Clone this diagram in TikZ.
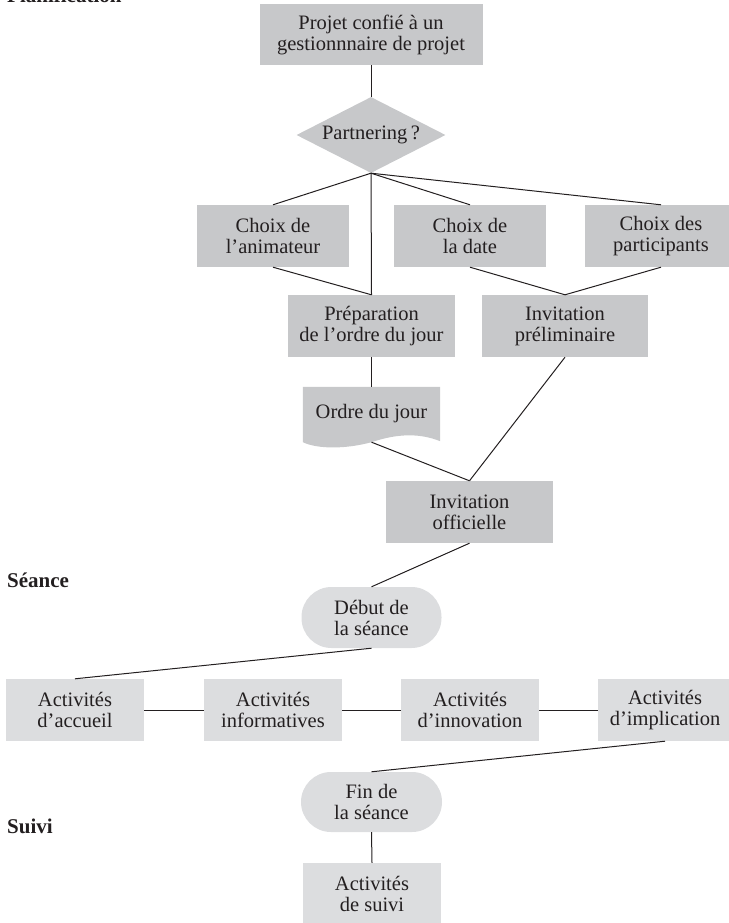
\documentclass[tikz,border=0pt]{standalone}
\usepackage{fontspec}
\setmainfont{Liberation Serif}
\usetikzlibrary{shapes.geometric,backgrounds,calc}
\definecolor{darkbox}{RGB}{199,200,202}
\definecolor{lightbox}{RGB}{220,221,223}
\definecolor{inkc}{RGB}{35,31,32}
\begin{document}
\begin{tikzpicture}[x=1pt,y=-1pt,
  every node/.style={font=\fontsize{20.5}{21}\selectfont, align=center, inner sep=0pt, text=inkc},
  pbox/.style={fill=darkbox, minimum width=#1, minimum height=62},
  pbox/.default=152,
  sbox/.style={fill=lightbox, minimum width=#1, minimum height=62},
  sbox/.default=138,
  stad/.style={fill=lightbox, rounded corners=30pt, minimum width=140, minimum height=61},
  dec/.style={shape=diamond, fill=darkbox, aspect=1.96, minimum width=149, minimum height=76},
  conn/.style={line width=1pt, draw=inkc},
  sec/.style={font=\fontsize{21}{21}\selectfont\bfseries, anchor=base west}
]
\useasboundingbox (0,0) rectangle (728,923);

% section labels
\node[sec] (lplan) at (7,3) {Planification};
\node[sec] (lseance) at (7,587) {Séance};
\node[sec] (lsuivi) at (7,833) {Suivi};

% planning
\node[pbox=223, minimum height=61] (p1) at (371,34.5) {Projet confié à un\\gestionnnaire de projet};
\node[dec] (d) at (371,135) {Partnering\,?};
\node[pbox] (anim) at (273,236) {Choix de\\l'animateur};
\node[pbox] (date) at (470,236) {Choix de\\la date};
\node[pbox] (part) at (661,236) {Choix des\\participants};
\node[pbox=167] (prep) at (371.5,326) {Préparation\\de l'ordre du jour};
\node[pbox=166] (invp) at (565,326) {Invitation\\préliminaire};
\node[minimum width=137, minimum height=54] (odj) at (371.5,414) {\raisebox{2pt}{Ordre du jour}};
\node[pbox=167] (invo) at (469.5,512) {Invitation\\officielle};

\begin{scope}[on background layer]
\fill[darkbox] (odj.north west) -- (odj.north east) -- (odj.south east)
  .. controls ($(odj.south east)+(-20,-8)$) and ($(odj.south east)+(-42,-8)$) .. ($(odj.south)+(0,1)$)
  .. controls ($(odj.south)+(-26,8)$) and ($(odj.south west)+(15,8)$) .. ($(odj.south west)+(0,1)$)
  -- cycle;
\end{scope}

% séance
\node[stad] (debut) at (371.5,617.5) {Début de\\la séance};
\node[sbox] (acc) at (75,710) {Activités\\d'accueil};
\node[sbox] (info) at (273,710) {Activités\\informatives};
\node[sbox] (innov) at (470,710) {Activités\\d'innovation};
\node[sbox=134] (impl) at (665,710) {Activités\\d'implication};
\node[stad, minimum width=141, minimum height=60] (fin) at (371.5,802) {Fin de\\la séance};

% suivi
\node[sbox] (suivi) at (372,894) {Activités\\de suivi};

% connectors
\draw[conn] (p1.south) -- (d.north);
\draw[conn] (d.south) -- (anim.north);
\draw[conn] (d.south) -- (prep.north);
\draw[conn] (d.south) -- (date.north);
\draw[conn] (d.south) -- (part.north);
\draw[conn] (anim.south) -- (prep.north);
\draw[conn] (date.south) -- (invp.north);
\draw[conn] (part.south) -- (invp.north);
\draw[conn] (prep.south) -- (odj.north);
\draw[conn] ($(odj.south)+(0,1)$) -- (invo.north);
\draw[conn] (invp.south) -- (invo.north);
\draw[conn] (invo.south) -- (debut.north);
\draw[conn] (debut.south) -- (acc.north);
\draw[conn] (acc.east) -- (info.west);
\draw[conn] (info.east) -- (innov.west);
\draw[conn] (innov.east) -- (impl.west);
\draw[conn] (impl.south) -- (fin.north);
\draw[conn] (fin.south) -- (suivi.north);
\end{tikzpicture}
\end{document}
